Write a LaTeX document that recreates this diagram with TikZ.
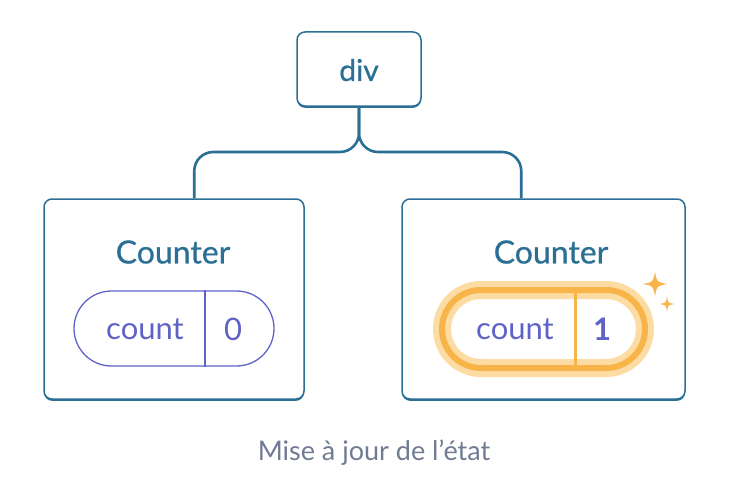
\documentclass[tikz,border=0pt]{standalone}
\usepackage{fontspec}
\setmainfont{Lato}
\newfontfamily\medfont[FakeBold=0.6]{Lato}
\usetikzlibrary{calc,shadows}
\definecolor{bluC}{HTML}{2B6F94}
\definecolor{purC}{HTML}{5F63C8}
\definecolor{oraC}{HTML}{F8B449}
\definecolor{glwC}{HTML}{FDDCA4}
\definecolor{capC}{HTML}{717B94}
\tikzset{
  compbox/.style={draw=bluC, line width=1.5pt, rounded corners=8pt, fill=white,
    general shadow={fill=bluC, shadow yshift=-1.8pt}},
  conn/.style={draw=bluC, line width=2.6pt, rounded corners=19pt},
  ttl/.style={text=bluC, font=\medfont\fontsize{32}{36}\selectfont},
  pillp/.style={draw=purC, line width=1.3pt, rounded corners=37.5pt, minimum width=200pt, minimum height=75pt},
  pillo/.style={draw=oraC, line width=6pt, rounded corners=39pt, minimum width=203pt, minimum height=78pt,
    preaction={draw=glwC, line width=18pt}},
  ptxt/.style={text=purC, font=\fontsize{31}{34}\selectfont},
  sparkle/.pic={\fill[oraC] (0,-1) .. controls (0.14,-0.14) .. (1,0) .. controls (0.14,0.14) .. (0,1) .. controls (-0.14,0.14) .. (-1,0) .. controls (-0.14,-0.14) .. cycle;}
}
\begin{document}
\begin{tikzpicture}[x=1pt,y=-1pt]
\useasboundingbox[fill=white] (0,0) rectangle (738,495);
% boxes
\node[compbox, minimum width=124pt, minimum height=74pt] (div) at (359,69) {};
\node[ttl, font=\medfont\fontsize{30}{34}\selectfont] (divt) at (359,70) {div};
\node[compbox, minimum width=260pt, minimum height=200pt] (L) at (174,299) {};
\node[compbox, minimum width=283pt, minimum height=200pt] (R) at (543.5,299) {};
% connectors
\coordinate (lt) at ($(L.north west)+(151,0)$);
\coordinate (rt) at ($(R.north west)+(120,0)$);
\coordinate (mj) at (359,152);
\draw[conn] (div.south) -- (mj) -- (lt |- mj) -- (lt);
\draw[conn] (div.south) -- (mj) -- (rt |- mj) -- (rt);
% titles
\node[ttl] (Lt) at (173,252) {Counter};
\node[ttl] (Rt) at (551,252) {Counter};
% left pill
\node[pillp] (p1) at (174,328.5) {};
\coordinate (d1) at (205,0);
\draw[purC, line width=1.3pt] (p1.north -| d1) -- (p1.south -| d1);
\node[ptxt] (c1) at (145,329) {count};
\node[ptxt] (v1) at (233,329) {0};
% right pill
\node[pillo] (p2) at (543.5,329) {};
\coordinate (d2) at (575,0);
\draw[oraC, line width=3pt] (p2.north -| d2) -- (p2.south -| d2);
\node[ptxt] (c2) at (515,329) {count};
\node[ptxt, font=\fontsize{31}{34}\selectfont\bfseries] (v2) at (602,329) {1};
% sparkles
\pic[scale=12.5] at (655,284) {sparkle};
\pic[scale=7.5] at (667,304) {sparkle};
% caption
\node[text=capC, font=\fontsize{27}{32}\selectfont] (cap) at (374,453) {Mise à jour de l’état};
\end{tikzpicture}
\end{document}
